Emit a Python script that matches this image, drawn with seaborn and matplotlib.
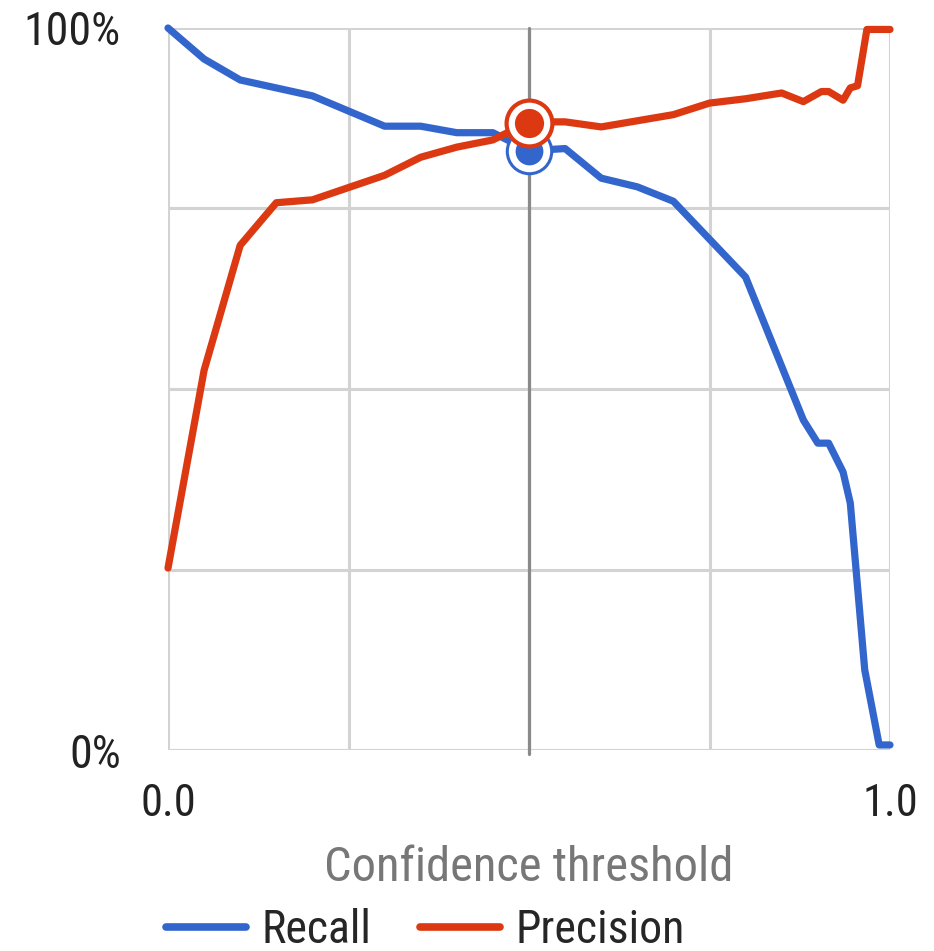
import pandas as pd
import matplotlib
matplotlib.use("Agg")
import matplotlib.pyplot as plt
import seaborn as sns

# --- data ---
recall_x = [0.0, 0.05, 0.10, 0.20, 0.30, 0.35, 0.40, 0.45, 0.50, 0.55, 0.60,
            0.65, 0.70, 0.80, 0.88, 0.90, 0.915, 0.935, 0.945, 0.965, 0.985, 1.0]
recall_y = [100, 95.7, 92.8, 90.6, 86.4, 86.4, 85.5, 85.5, 83.0, 83.3, 79.2,
            78.0, 76.0, 65.5, 45.7, 42.5, 42.5, 38.5, 34.2, 11.1, 0.7, 0.7]

precision_x = [0.0, 0.05, 0.10, 0.15, 0.20, 0.30, 0.35, 0.40, 0.45, 0.50, 0.55,
               0.60, 0.70, 0.75, 0.80, 0.85, 0.88, 0.905, 0.915, 0.935, 0.945,
               0.955, 0.968, 1.0]
precision_y = [25.2, 52.6, 69.9, 75.8, 76.2, 79.6, 82.1, 83.5, 84.5, 87.0, 87.0,
               86.3, 88.0, 89.6, 90.2, 91.0, 89.8, 91.2, 91.2, 90.0, 91.7,
               92.0, 99.8, 99.8]

threshold = 0.5
recall_at = 83.0
precision_at = 86.9

series = ["Recall", "Precision"]
colors = {"Recall": "#3366CC", "Precision": "#DC3912"}

df = pd.concat([
    pd.DataFrame({"x": recall_x, "y": recall_y, "metric": "Recall"}),
    pd.DataFrame({"x": precision_x, "y": precision_y, "metric": "Precision"}),
], ignore_index=True)

sns.set_theme(style="whitegrid")
plt.rcParams["font.family"] = ["Roboto Condensed", "Roboto", "DejaVu Sans"]

fig = plt.figure(figsize=(9.34, 9.51), dpi=100)
ax = fig.add_axes([168 / 934, 1 - 750 / 951, 722 / 934, 722 / 951])

ax.axvline(threshold, ymin=-0.006, ymax=1, color="#8a8a8a", lw=2.3,
           zorder=2, clip_on=False)

sns.lineplot(data=df, x="x", y="y", hue="metric", hue_order=series,
             palette=colors, lw=5.2, sort=False, estimator=None,
             legend=False, ax=ax, zorder=3)
for ln in ax.lines:
    ln.set_clip_on(False)

# threshold markers
ax.plot([threshold], [recall_at], marker="o", ms=32, mfc="white",
        mec=colors["Recall"], mew=2.2, ls="none", zorder=4, clip_on=False)
ax.plot([threshold], [recall_at], marker="o", ms=20, mfc=colors["Recall"],
        mec="none", ls="none", zorder=4, clip_on=False)
ax.plot([threshold], [precision_at], marker="o", ms=33, mfc="white",
        mec=colors["Precision"], mew=3, ls="none", zorder=5, clip_on=False)
ax.plot([threshold], [precision_at], marker="o", ms=21, mfc=colors["Precision"],
        mec="none", ls="none", zorder=5, clip_on=False)

ax.set_xlim(0, 1)
ax.set_ylim(0, 100)
ax.set_xticks([0, 0.25, 0.5, 0.75, 1.0], labels=["0.0", "", "", "", "1.0"])
ax.set_yticks([0, 25, 50, 75, 100], labels=["0%", "", "", "", "100%"])
ax.tick_params(axis="x", length=0, pad=24, labelsize=32, labelcolor="#222222")
ax.tick_params(axis="y", length=0, pad=34, labelsize=33, labelcolor="#222222")
ax.grid(True, color="#d3d3d3", lw=2.2)
for s in ax.spines.values():
    s.set_visible(False)

ax.set_xlabel("Confidence threshold", fontsize=35, color="#777777", labelpad=14)
ax.set_ylabel("")

handles = [plt.Line2D([], [], color=colors[m], lw=5.5) for m in series]
fig.legend(handles, series, loc="center left", bbox_to_anchor=(166 / 934, 1 - 930 / 951),
           ncol=2, frameon=False, fontsize=33, borderpad=0, borderaxespad=0,
           handlelength=1.75, handletextpad=0.34, columnspacing=1.05)

fig.savefig("out.png", dpi=100, facecolor="white")
